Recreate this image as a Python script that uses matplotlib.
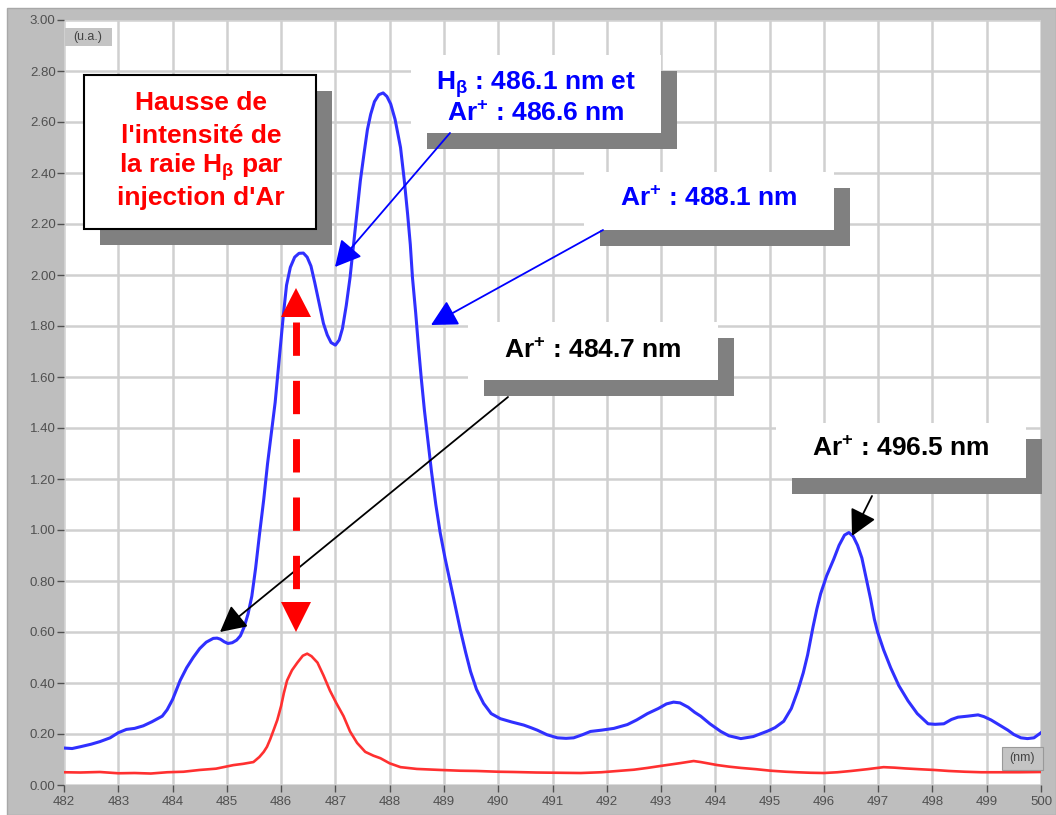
import matplotlib
matplotlib.use("Agg")
import matplotlib.pyplot as plt
from matplotlib.patches import Rectangle, Polygon, FancyArrowPatch

# ---------------- data ----------------
blue_nm = [482.0, 482.15, 482.3, 482.5, 482.66, 482.85, 483.0, 483.15, 483.3, 483.46,
           483.62, 483.81, 483.9, 484.0, 484.14, 484.26, 484.38, 484.5, 484.62, 484.75,
           484.82, 484.88, 484.95, 485.02, 485.1, 485.18, 485.25, 485.32, 485.39, 485.46,
           485.53, 485.6, 485.68, 485.75, 485.82, 485.89, 485.96, 486.04, 486.1, 486.17,
           486.25, 486.33, 486.41, 486.48, 486.55, 486.62, 486.7, 486.78, 486.85, 486.92,
           487.0, 487.07, 487.13, 487.2, 487.27, 487.33, 487.4, 487.46, 487.53, 487.59,
           487.65, 487.72, 487.8, 487.88, 487.95, 488.02, 488.1, 488.2, 488.27, 488.33,
           488.38, 488.42, 488.48, 488.53, 488.58, 488.64, 488.7, 488.77, 488.85, 488.93,
           489.02, 489.12, 489.21, 489.3, 489.4, 489.49, 489.6, 489.73, 489.87, 490.04,
           490.25, 490.47, 490.6, 490.72, 490.9, 491.09, 491.25, 491.39, 491.55, 491.7,
           491.9, 492.13, 492.38, 492.55, 492.75, 492.95, 493.1, 493.23, 493.35, 493.5,
           493.62, 493.73, 493.9, 494.1, 494.25, 494.47, 494.7, 494.97, 495.1, 495.26,
           495.4, 495.52, 495.62, 495.7, 495.8, 495.87, 495.94, 496.05, 496.18, 496.28,
           496.38, 496.46, 496.54, 496.62, 496.7, 496.78, 496.86, 496.93, 496.99, 497.1,
           497.23, 497.38, 497.55, 497.72, 497.92, 498.05, 498.21, 498.35, 498.47, 498.65,
           498.84, 498.95, 499.08, 499.22, 499.39, 499.5, 499.63, 499.75, 499.87, 500.0]
blue_int = [0.145, 0.143, 0.15, 0.16, 0.17, 0.185, 0.205, 0.218, 0.222, 0.232,
            0.248, 0.27, 0.295, 0.335, 0.41, 0.46, 0.50, 0.535, 0.56, 0.575,
            0.576, 0.572, 0.562, 0.555, 0.558, 0.568, 0.585, 0.62, 0.67, 0.74,
            0.85, 0.98, 1.12, 1.26, 1.38, 1.50, 1.66, 1.84, 1.96, 2.03,
            2.07, 2.085, 2.086, 2.07, 2.035, 1.97, 1.89, 1.81, 1.765, 1.735,
            1.725, 1.745, 1.79, 1.88, 1.99, 2.11, 2.25, 2.37, 2.48, 2.57,
            2.63, 2.68, 2.707, 2.714, 2.70, 2.67, 2.61, 2.50, 2.37, 2.24,
            2.12, 1.99, 1.85, 1.72, 1.60, 1.47, 1.36, 1.23, 1.10, 0.99,
            0.89, 0.79, 0.70, 0.61, 0.52, 0.445, 0.375, 0.32, 0.28, 0.26,
            0.247, 0.235, 0.225, 0.215, 0.197, 0.185, 0.183, 0.185, 0.197, 0.21,
            0.215, 0.222, 0.237, 0.255, 0.28, 0.30, 0.318, 0.325, 0.322, 0.305,
            0.285, 0.27, 0.24, 0.21, 0.193, 0.182, 0.19, 0.212, 0.225, 0.25,
            0.30, 0.37, 0.44, 0.51, 0.62, 0.69, 0.75, 0.82, 0.885, 0.94,
            0.98, 0.99, 0.975, 0.94, 0.89, 0.81, 0.73, 0.65, 0.60, 0.53,
            0.46, 0.39, 0.33, 0.28, 0.24, 0.238, 0.24, 0.257, 0.266, 0.27,
            0.275, 0.268, 0.255, 0.237, 0.215, 0.198, 0.185, 0.182, 0.185, 0.205]

red_nm = [482.0, 482.3, 482.66, 483.0, 483.3, 483.6, 483.9, 484.2, 484.5, 484.8,
          485.12, 485.3, 485.49, 485.6, 485.68, 485.74, 485.8, 485.87, 485.93, 486.0,
          486.05, 486.11, 486.2, 486.3, 486.4, 486.48, 486.56, 486.67, 486.78, 486.9,
          487.02, 487.15, 487.27, 487.4, 487.55, 487.7, 487.83, 488.0, 488.2, 488.5,
          488.93, 489.3, 489.6, 490.0, 490.28, 490.7, 491.1, 491.52, 491.9, 492.2,
          492.5, 492.75, 493.0, 493.36, 493.6, 493.73, 494.04, 494.25, 494.47, 494.75,
          495.02, 495.3, 495.5, 495.75, 496.0, 496.25, 496.5, 496.8, 497.1, 497.3,
          497.5, 497.75, 498.03, 498.3, 498.6, 498.9, 499.3, 499.6, 500.0]
red_int = [0.05, 0.049, 0.051, 0.046, 0.047, 0.045, 0.05, 0.052, 0.059, 0.064,
           0.078, 0.083, 0.09, 0.11, 0.13, 0.15, 0.18, 0.22, 0.255, 0.31,
           0.36, 0.41, 0.45, 0.48, 0.507, 0.515, 0.505, 0.48, 0.43, 0.37,
           0.32, 0.27, 0.21, 0.165, 0.13, 0.115, 0.105, 0.085, 0.07, 0.063,
           0.059, 0.056, 0.055, 0.052, 0.051, 0.049, 0.048, 0.047, 0.05, 0.055,
           0.06, 0.067, 0.075, 0.086, 0.094, 0.09, 0.078, 0.072, 0.067, 0.062,
           0.056, 0.052, 0.05, 0.048, 0.047, 0.05, 0.055, 0.062, 0.07, 0.068,
           0.065, 0.062, 0.059, 0.055, 0.052, 0.05, 0.05, 0.05, 0.051]

x_ticks = list(range(482, 501))
y_ticks = [0.0, 0.2, 0.4, 0.6, 0.8, 1.0, 1.2, 1.4, 1.6, 1.8, 2.0, 2.2, 2.4, 2.6, 2.8, 3.0]
y_ticklabels = ["%.2f" % v for v in y_ticks]

# ---------------- style ----------------
plt.rcParams['font.family'] = ['Liberation Sans', 'DejaVu Sans']
plt.rcParams['mathtext.fontset'] = 'custom'
plt.rcParams['mathtext.rm'] = 'Liberation Sans:bold'
plt.rcParams['mathtext.it'] = 'Liberation Sans:bold'
plt.rcParams['mathtext.bf'] = 'Liberation Sans:bold'
plt.rcParams['mathtext.default'] = 'regular'

W, H = 1056, 815
fig = plt.figure(figsize=(W / 100, H / 100), dpi=100)
fig.patch.set_facecolor('white')

# grey instrument frame (background)
bg = fig.add_axes([0, 0, 1, 1], zorder=0)
bg.set_xlim(0, W); bg.set_ylim(H, 0); bg.axis('off')
bg.add_patch(Rectangle((7, 8), W - 7, H - 8, facecolor='#bebebe', edgecolor='#a8a8a8', lw=1))

L, R, T, B = 64, 1041, 20, 785
ax = fig.add_axes([L / W, 1 - B / H, (R - L) / W, (B - T) / H], zorder=1)
ax.set_facecolor('white')
ax.set_xlim(482, 500)
ax.set_ylim(0, 3.0)
for s in ax.spines.values():
    s.set_visible(False)
ax.set_xticks(x_ticks)
ax.set_xticklabels([str(v) for v in x_ticks])
ax.set_yticks(y_ticks)
ax.set_yticklabels(y_ticklabels)
ax.tick_params(axis='both', colors='#505050', labelsize=9.5, length=5, width=1, pad=1)
ax.tick_params(axis='x', pad=3)
ax.grid(True, color='#d0d0d0', lw=1.8)
ax.set_axisbelow(True)

ax.plot(red_nm, red_int, color='#ff3030', lw=1.9, zorder=3, solid_joinstyle='round')
ax.plot(blue_nm, blue_int, color='#3030ff', lw=2.2, zorder=4, solid_joinstyle='round')

# ---------------- overlay (annotations in pixel space) ----------------
ov = fig.add_axes([0, 0, 1, 1], zorder=5)
ov.set_xlim(0, W); ov.set_ylim(H, 0); ov.axis('off')

# unit labels
ov.add_patch(Rectangle((65, 28), 47, 18, facecolor='#c4c4c4', edgecolor='none'))
ov.text(88, 37, "(u.a.)", ha='center', va='center', fontsize=9, color='#444444')
ov.add_patch(Rectangle((1002, 747), 41, 23, facecolor='#c4c4c4', edgecolor='#999999', lw=0.8))
ov.text(1022, 758, "(nm)", ha='center', va='center', fontsize=9, color='#444444')

SH = 16
def box(x0, y0, x1, y1, border=False):
    ov.add_patch(Rectangle((x0 + SH, y0 + SH), x1 - x0, y1 - y0, facecolor='#808080', edgecolor='none'))
    ov.add_patch(Rectangle((x0, y0), x1 - x0, y1 - y0, facecolor='white',
                           edgecolor='black' if border else 'none', lw=1.5))

fs = 19
box(84, 75, 316, 229, border=True)
for yy, t in zip([103, 136, 167, 198],
                 ["Hausse de", "l'intensité de", r"la raie H$_{β}$ par", "injection d'Ar"]):
    ov.text(201, yy, t, ha='center', va='center', color='#ff0000', fontsize=fs, fontweight='bold')

box(411, 55, 661, 133)
ov.text(536, 85, r"H$_{β}$ : 486.1 nm et", ha='center', va='center', color='#0000ff', fontsize=fs, fontweight='bold')
ov.text(536, 114, r"Ar$^{+}$ : 486.6 nm", ha='center', va='center', color='#0000ff', fontsize=fs, fontweight='bold')

box(584, 172, 834, 230)
ov.text(709, 199, r"Ar$^{+}$ : 488.1 nm", ha='center', va='center', color='#0000ff', fontsize=fs, fontweight='bold')

box(468, 322, 718, 380)
ov.text(593, 351, r"Ar$^{+}$ : 484.7 nm", ha='center', va='center', color='black', fontsize=fs, fontweight='bold')

box(776, 423, 1026, 478)
ov.text(901, 449, r"Ar$^{+}$ : 496.5 nm", ha='center', va='center', color='black', fontsize=fs, fontweight='bold')

def arrow(p0, p1, color):
    a = FancyArrowPatch(p0, p1, arrowstyle='-|>,head_length=0.8,head_width=0.42',
                        mutation_scale=20, color=color, lw=1.3, shrinkA=0, shrinkB=0)
    ov.add_patch(a)

arrow((450, 133), (335, 267), '#0000ff')
arrow((603, 230), (431, 325), '#0000ff')
arrow((508, 397), (220, 632), 'black')
arrow((872, 496), (852, 536), 'black')

# red dashed double arrow
ov.plot([296, 296], [322, 600], color='#ff0000', lw=5, dashes=(4.8, 3.6), solid_capstyle='butt',
        dash_capstyle='butt')
ov.add_patch(Polygon([(296, 288), (281, 317), (311, 317)], closed=True, facecolor='#ff0000', edgecolor='none'))
ov.add_patch(Polygon([(296, 632), (281, 602), (311, 602)], closed=True, facecolor='#ff0000', edgecolor='none'))

fig.savefig("out.png", dpi=100, facecolor='white')
